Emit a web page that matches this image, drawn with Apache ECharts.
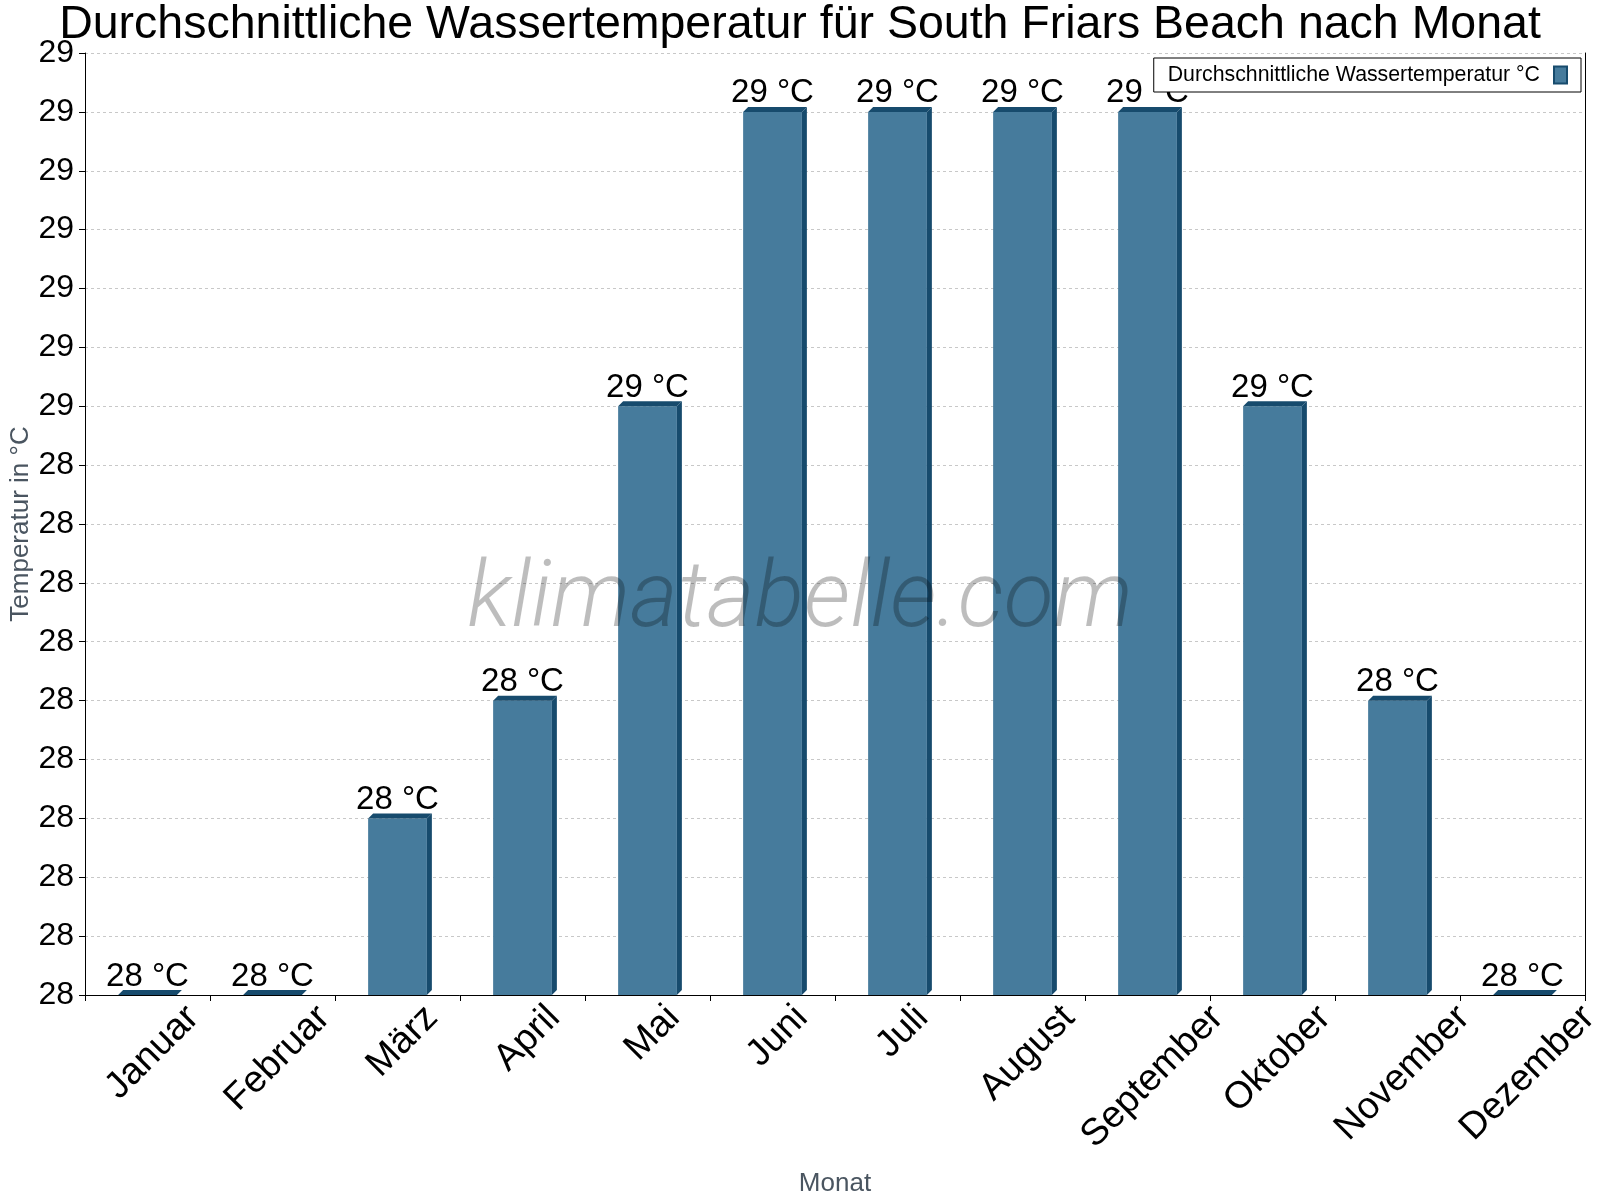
<!DOCTYPE html>
<html>
<head>
<meta charset="utf-8">
<script src="https://cdn.jsdelivr.net/npm/echarts@6/dist/echarts.min.js"></script>
<style>
  html, body { margin: 0; padding: 0; background: #fff; }
  #chart { width: 1600px; height: 1200px; }
</style>
</head>
<body>
<div id="chart"></div>
<script>
var months = ['Januar', 'Februar', 'März', 'April', 'Mai', 'Juni', 'Juli', 'August', 'September', 'Oktober', 'November', 'Dezember'];
var waterTemp = [27.5, 27.5, 27.8, 28.0, 28.5, 29.0, 29.0, 29.0, 29.0, 28.5, 28.0, 27.5];
var axisMin = 27.5;
var axisMax = 29.1;
var axisStep = 0.1;

var FONT = '"Liberation Sans", Arial, sans-serif';
var front = '#467b9c';
var dark = '#174b6d';
var monthFont = 37.5;

var chart = echarts.init(document.getElementById('chart'));

// width of a month name, to place the rotated labels like the original
var ctx = document.createElement('canvas').getContext('2d');
ctx.font = monthFont + 'px "Liberation Sans"';
function textWidth(s) { return ctx.measureText(s).width; }

function renderBar(params, api) {
    var idx = api.value(0);
    var val = api.value(1);
    var topPt = api.coord([idx, val]);
    var basePt = api.coord([idx, axisMin]);
    var w = api.size([1, 0])[0] * 0.47;
    var d = 5;
    var l = topPt[0] - w / 2, r = topPt[0] + w / 2;
    var t = topPt[1], b = basePt[1];
    var children = [];
    if (b - t > 0.5) {
        children.push({
            type: 'rect',
            shape: { x: l, y: t, width: w, height: b - t },
            style: { fill: front }
        });
        children.push({
            type: 'polygon',
            shape: { points: [[r, t], [r + d, t - d], [r + d, b - d], [r, b]] },
            style: { fill: dark }
        });
    }
    children.push({
        type: 'polygon',
        shape: { points: [[l, t], [l + d, t - d], [r + d, t - d], [r, t]] },
        style: { fill: dark }
    });
    children.push({
        type: 'text',
        x: topPt[0],
        y: t - d + 3,
        style: {
            text: Math.round(val) + ' °C',
            align: 'center',
            verticalAlign: 'bottom',
            fill: '#000',
            fontSize: 33,
            fontFamily: FONT
        }
    });
    return { type: 'group', children: children };
}

function renderMonth(params, api) {
    var idx = api.value(0);
    var p = api.coord([idx, axisMin]);
    var name = months[idx];
    var W = textWidth(name);
    return {
        type: 'text',
        x: p[0] + 0.354 * W + 5,
        y: p[1] + 17,
        rotation: Math.PI / 4,
        style: {
            text: name,
            align: 'right',
            verticalAlign: 'middle',
            fill: '#000',
            fontSize: monthFont,
            fontFamily: FONT
        }
    };
}

var option = {
    animation: false,
    backgroundColor: '#fff',
    title: {
        text: 'Durchschnittliche Wassertemperatur für South Friars Beach nach Monat',
        left: 'center',
        top: -3,
        textStyle: { fontSize: 46.5, fontWeight: 'normal', color: '#000', fontFamily: FONT }
    },
    legend: {
        right: 19,
        top: 58,
        align: 'right',
        padding: [6, 13, 6, 14],
        borderColor: '#000',
        borderWidth: 1,
        backgroundColor: '#fff',
        itemWidth: 13,
        itemHeight: 17,
        textStyle: { fontSize: 21.3, lineHeight: 22, padding: [0, 9, 0, 0], color: '#000', fontFamily: FONT },
        data: [{ name: 'Durchschnittliche Wassertemperatur °C', icon: 'rect' }]
    },
    graphic: [{
        type: 'text',
        left: 'center',
        top: 557,
        z: 100,
        style: {
            text: 'klimatabelle.com',
            fontSize: 92,
            fontStyle: 'italic',
            fontWeight: 300,
            fontFamily: 'Roboto, "Open Sans", sans-serif',
            fill: 'rgba(0,0,0,0.26)'
        }
    }],
    grid: { left: 85, right: 15, top: 53, bottom: 205, outerBoundsMode: 'none' },
    xAxis: {
        type: 'category',
        data: months,
        name: 'Monat',
        nameLocation: 'middle',
        nameGap: 176,
        nameTextStyle: { fontSize: 26, color: '#4a5560', fontFamily: FONT },
        axisLine: { lineStyle: { color: '#000', width: 1 } },
        axisTick: { show: true, length: 6, lineStyle: { color: '#000' } },
        axisLabel: { show: false }
    },
    yAxis: [{
        type: 'value',
        min: axisMin,
        max: axisMax,
        interval: axisStep,
        name: 'Temperatur in °C',
        nameLocation: 'middle',
        nameGap: 51,
        nameMoveOverlap: false,
        nameTextStyle: { fontSize: 26, color: '#4a5560', fontFamily: FONT },
        axisLine: { show: true, lineStyle: { color: '#000', width: 1 } },
        axisTick: { show: true, length: 6, lineStyle: { color: '#000' } },
        axisLabel: {
            fontSize: 32, color: '#000', fontFamily: FONT, margin: 11,
            formatter: function (v) { return Math.round(v); }
        },
        splitLine: { show: true, lineStyle: { color: '#c8c8c8', type: [3, 3] } }
    }, {
        type: 'value',
        position: 'right',
        min: axisMin,
        max: axisMax,
        interval: axisStep,
        axisLine: { show: true, lineStyle: { color: '#000', width: 1 } },
        axisTick: { show: false },
        axisLabel: { show: false },
        splitLine: { show: false }
    }],
    series: [{
        name: 'Durchschnittliche Wassertemperatur °C',
        type: 'custom',
        renderItem: renderBar,
        itemStyle: { color: front, borderColor: dark, borderWidth: 1 },
        encode: { x: 0, y: 1 },
        data: waterTemp.map(function (v, i) { return [i, v]; })
    }, {
        name: 'Monatsnamen',
        type: 'custom',
        renderItem: renderMonth,
        silent: true,
        clip: false,
        encode: { x: 0, y: 1 },
        data: months.map(function (m, i) { return [i, axisMin]; })
    }]
};

chart.setOption(option);
</script>
</body>
</html>
